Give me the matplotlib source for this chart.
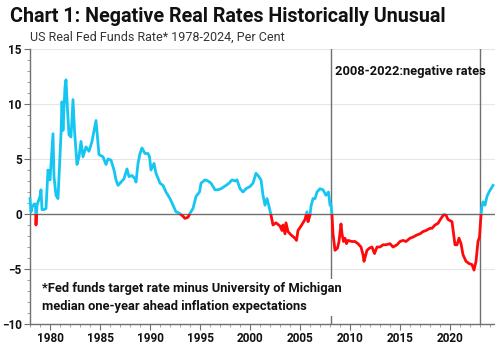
import matplotlib
matplotlib.use("Agg")
import matplotlib.pyplot as plt
import numpy as np
from matplotlib.patches import Rectangle
from matplotlib.ticker import MultipleLocator

# Real fed funds rate readings (year, per cent)
years = [1978.0, 1978.1, 1978.2, 1978.4, 1978.55, 1978.6, 1978.7, 1979.0, 1979.1, 1979.2, 1979.4, 1979.6,
         1979.8, 1980.0, 1980.3, 1980.4, 1980.6, 1980.8, 1981.1, 1981.2, 1981.3, 1981.5, 1981.6, 1981.75, 1981.9,
         1982.1, 1982.3, 1982.45, 1982.7, 1982.9, 1983.1, 1983.3, 1983.6, 1983.9, 1984.2, 1984.6, 1984.75,
         1984.9, 1985.3, 1985.6, 1985.8, 1986.1, 1986.4, 1986.6, 1986.8, 1987.1, 1987.4, 1987.7, 1987.9,
         1988.2, 1988.5, 1988.6, 1988.8, 1989.0, 1989.2, 1989.5, 1989.8, 1989.95, 1990.1, 1990.4, 1990.6,
         1991.0, 1991.3, 1991.6, 1992.0, 1992.3, 1992.6, 1992.95, 1993.3, 1993.5, 1993.8, 1994.0, 1994.3,
         1994.6, 1994.95, 1995.1, 1995.5, 1995.8, 1996.1, 1996.5, 1996.8, 1997.1, 1997.6, 1997.9, 1998.2,
         1998.5, 1998.7, 1999.0, 1999.3, 1999.6, 2000.0, 2000.3, 2000.6, 2000.8, 2001.1, 2001.3, 2001.5,
         2001.7, 2001.9, 2002.1, 2002.3, 2002.6, 2003.0, 2003.2, 2003.3, 2003.5, 2003.6, 2003.8, 2004.1,
         2004.5, 2004.65, 2004.8, 2005.1, 2005.5, 2005.7, 2005.8, 2006.0, 2006.1, 2006.3, 2006.5, 2006.7,
         2007.0, 2007.3, 2007.6, 2007.85, 2008.0, 2008.1, 2008.2, 2008.3, 2008.5, 2008.75, 2008.9, 2009.1,
         2009.2, 2009.35, 2009.5, 2009.65, 2009.8, 2010.2, 2010.5, 2010.8, 2011.1, 2011.3, 2011.4, 2011.7,
         2011.95, 2012.2, 2012.45, 2012.7, 2013.0, 2013.3, 2013.6, 2014.0, 2014.3, 2014.7, 2015.0, 2015.3,
         2015.6, 2016.0, 2016.3, 2016.7, 2017.0, 2017.3, 2017.6, 2018.0, 2018.2, 2018.5, 2018.8, 2019.1,
         2019.4, 2019.6, 2019.8, 2020.2, 2020.5, 2020.7, 2020.9, 2021.1, 2021.3, 2021.6, 2021.9, 2022.2,
         2022.4, 2022.6, 2022.8, 2022.95, 2023.1, 2023.2, 2023.3, 2023.5, 2023.7, 2023.9, 2024.1, 2024.3]
values = [1.4, 0.2, 0.6, 0.9, 0.9, -1.0, 0.8, 1.6, 2.2, 0.4, 0.4, 0.5,
          4.0, 3.1, 7.3, 3.4, 1.7, 1.4, 7.3, 10.2, 7.6, 11.6, 12.2, 9.5, 7.2,
          7.0, 10.4, 7.6, 4.5, 5.2, 6.6, 5.2, 6.1, 5.7, 6.6, 8.5, 7.0,
          5.4, 5.2, 4.5, 5.0, 4.9, 4.0, 3.1, 2.6, 2.9, 3.2, 4.1, 3.4,
          3.5, 3.2, 2.9, 4.6, 5.5, 6.0, 5.5, 5.5, 5.2, 4.0, 4.6, 3.7,
          2.8, 2.6, 2.0, 1.4, 0.8, 0.2, 0.06, -0.2, -0.4, -0.3, 0.06, 0.5,
          1.6, 2.0, 2.8, 3.1, 3.0, 2.8, 2.2, 2.2, 2.3, 2.6, 2.8, 3.1,
          3.0, 3.1, 2.3, 2.0, 2.3, 2.5, 2.8, 3.7, 3.5, 3.1, 1.7, 0.8,
          1.4, 0.7, -0.1, -1.0, -0.8, -1.1, -1.5, -1.0, -1.8, -0.8, -1.6, -1.9,
          -2.2, -2.4, -1.5, -1.1, -0.5, 0.2, -0.7, -0.1, 0.7, 1.4, 1.4, 2.0,
          2.3, 2.2, 1.7, 2.0, 0.8, 0.9, -0.1, -1.8, -3.3, -3.1, -2.5, -0.9,
          -1.8, -2.5, -2.2, -2.7, -2.4, -2.5, -2.5, -2.7, -3.0, -3.7, -4.3, -3.3,
          -3.1, -3.0, -3.6, -3.0, -3.0, -2.8, -2.8, -2.7, -3.0, -2.8, -2.5, -2.4,
          -2.5, -2.2, -2.1, -1.9, -1.8, -1.6, -1.5, -1.3, -1.3, -1.0, -0.85, -0.4,
          -0.03, -0.1, -0.5, -0.7, -2.8, -2.8, -2.2, -2.7, -3.7, -4.3, -4.5, -4.6,
          -5.1, -4.3, -2.5, -2.1, -0.1, 0.7, 1.1, 0.8, 1.6, 2.0, 2.3, 2.6]

title = "Chart 1: Negative Real Rates Historically Unusual"
subtitle = "US Real Fed Funds Rate* 1978-2024, Per Cent"
annot = "2008-2022:negative rates"
footnote = "*Fed funds target rate minus University of Michigan\nmedian one-year ahead inflation expectations"
period_lines = [2008.1, 2022.95]
yticks = [-10, -5, 0, 5, 10, 15]
xticks = [1980, 1985, 1990, 1995, 2000, 2005, 2010, 2015, 2020]

plt.rcParams['font.family'] = ['Roboto', 'DejaVu Sans']

fig = plt.figure(figsize=(4.95, 3.58), dpi=100)
ax = fig.add_axes([30/495, 1 - 324/358, 465/495, (324 - 49)/358])
ax.set_xlim(1978.0, 2024.5)
ax.set_ylim(-10, 15)

blue = "#16C6F2"
red = "#FF0A0A"
lb, = ax.plot(years, values, color=blue, lw=2.0, zorder=3, solid_joinstyle='round')
lr, = ax.plot(years, values, color=red, lw=2.0, zorder=3, solid_joinstyle='round')
clip_up = Rectangle((1970, 0), 60, 30, transform=ax.transData, visible=False)
clip_dn = Rectangle((1970, -30), 60, 30, transform=ax.transData, visible=False)
ax.add_patch(clip_up); ax.add_patch(clip_dn)
lb.set_clip_path(clip_up)
lr.set_clip_path(clip_dn)

for yv in yticks:
    if yv != 0:
        ax.axhline(yv, color="#e6e6e6", lw=0.8, zorder=0)
ax.axhline(0, color="#707070", lw=1.0, zorder=2)
for xv in period_lines:
    ax.axvline(xv, color="#707070", lw=1.0, zorder=2)

for s in ["top", "right"]:
    ax.spines[s].set_visible(False)
for s in ["left", "bottom"]:
    ax.spines[s].set_color("#707070")
    ax.spines[s].set_linewidth(1.0)

ax.set_yticks(yticks)
ax.set_xticks(xticks)
ax.yaxis.set_minor_locator(MultipleLocator(1))
ax.xaxis.set_minor_locator(MultipleLocator(1))
ax.tick_params(axis='both', which='major', length=4, color="#707070", labelsize=8.5, pad=2)
ax.tick_params(axis='both', which='minor', length=2, color="#909090")
for lab in ax.get_xticklabels() + ax.get_yticklabels():
    lab.set_fontweight('semibold')
    lab.set_color('#111111')

fig.text(10/495, 1 - 17/358, title, fontsize=14.2, fontweight='bold', va='center', ha='left', color='#111111')
fig.text(30/495, 1 - 37/358, subtitle, fontsize=9, va='center', ha='left', color='#333333')
ax.text(2008.5, 13.0, annot, fontsize=9.3, fontweight='bold', va='center', ha='left', color='#111111', zorder=5)
ax.text(1979.2, -7.6, footnote, fontsize=9.3, fontweight='bold', va='center', ha='left',
        color='#111111', linespacing=1.5, zorder=5,
        bbox=dict(facecolor='white', edgecolor='none', pad=2))

fig.savefig("out.png", dpi=100)
